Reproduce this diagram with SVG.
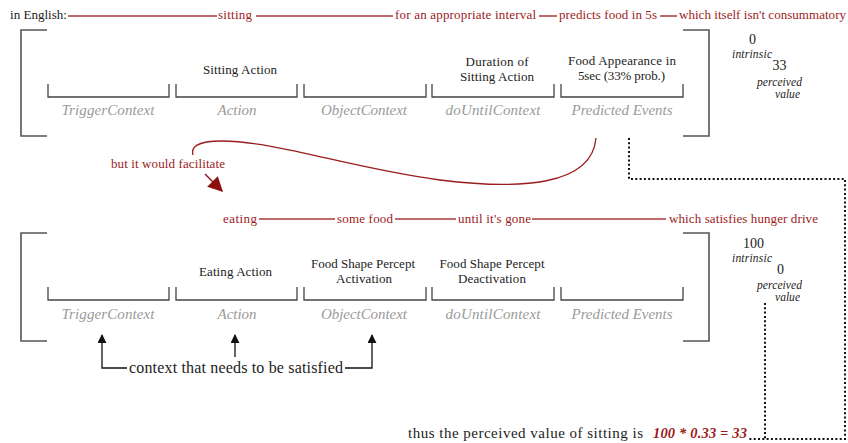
<svg xmlns="http://www.w3.org/2000/svg" width="848" height="443" viewBox="0 0 848 443">
  <defs>
    <style>
      text { font-family: "Liberation Serif", "DejaVu Serif", serif; }
      .t { fill: #222; }
      .red { fill: #9a1c1c; font-size: 13px; }
      .hdr { fill: #222; font-size: 13px; text-anchor: middle; }
      .lbl { fill: #9a9a9a; font-size: 15px; font-style: italic; text-anchor: middle; }
      .ital { fill: #222; font-size: 11.5px; font-style: italic; }
      .num { fill: #222; font-size: 14px; text-anchor: middle; }
      .rl { stroke: #a83a3a; stroke-width: 1.3; fill: none; }
      .br { stroke: #555; stroke-width: 1.6; fill: none; }
      .col { stroke: #444; stroke-width: 1.3; fill: none; }
      .dot { stroke: #111; stroke-width: 2; stroke-dasharray: 2 2.3; fill: none; }
      .blk { stroke: #111; stroke-width: 1.3; fill: none; }
    </style>
    <marker id="blackArrow" viewBox="0 0 10 10" refX="9" refY="5" markerWidth="9" markerHeight="9" markerUnits="userSpaceOnUse" orient="auto">
      <path d="M0,0 L10,5 L0,10 Z" fill="#111"/>
    </marker>
    <marker id="redArrow" viewBox="0 0 10 10" refX="9" refY="5" markerWidth="15" markerHeight="15" markerUnits="userSpaceOnUse" orient="auto">
      <path d="M0,0 L10,5 L0,10 Z" fill="#8b0f0f"/>
    </marker>
  </defs>

  <!-- top sentence -->
  <g id="english-top">
    <text class="t" x="10" y="19" font-size="12.5" textLength="57" lengthAdjust="spacingAndGlyphs">in English:</text>
    <path class="rl" d="M68,16 H217 M256,16 H393 M539,16 H557 M660,16 H677"/>
    <text class="red" x="218" y="19" textLength="34">sitting</text>
    <text class="red" x="395" y="19" textLength="141">for an appropriate interval</text>
    <text class="red" x="559" y="19" textLength="98">predicts food in 5s</text>
    <text class="red" x="679" y="19" textLength="167">which itself isn't consummatory</text>
  </g>

  <!-- sitting schema -->
  <g id="sitting-schema">
    <path class="br" d="M47,30 H21 V136 H47"/>
    <path class="br" d="M683,30 H709 V136 H683"/>
    <path class="col" d="M48,84 V97 H169 V84 M176,84 V97 H297 V84 M304,84 V97 H426 V84 M432,84 V97 H554 V84 M561,84 V97 H683 V84"/>
    <text class="hdr" x="240" y="74" textLength="74">Sitting Action</text>
    <text class="hdr" x="497" y="66" textLength="63">Duration of</text>
    <text class="hdr" x="497" y="81" textLength="74">Sitting Action</text>
    <text class="hdr" x="622" y="65" textLength="108">Food Appearance in</text>
    <text class="hdr" x="621.5" y="80" textLength="87">5sec (33% prob.)</text>
    <text class="lbl" x="108" y="115" textLength="93">TriggerContext</text>
    <text class="lbl" x="237" y="115" textLength="39">Action</text>
    <text class="lbl" x="364" y="115" textLength="86">ObjectContext</text>
    <text class="lbl" x="493" y="115" textLength="95">doUntilContext</text>
    <text class="lbl" x="622" y="115" textLength="101">Predicted Events</text>
  </g>

  <g id="sitting-values">
    <text class="num" x="752.5" y="44">0</text>
    <text class="ital" x="732" y="58" textLength="40">intrinsic</text>
    <text class="num" x="779.5" y="70">33</text>
    <text class="ital" x="757" y="86" textLength="45">perceived</text>
    <text class="ital" x="775" y="98" textLength="25">value</text>
  </g>

  <!-- bottom sentence -->
  <g id="english-bottom">
    <path class="rl" d="M259,219 H335 M395,219 H456 M532,219 H666"/>
    <text class="red" x="223" y="223" textLength="34">eating</text>
    <text class="red" x="337" y="223" textLength="56">some food</text>
    <text class="red" x="458" y="223" textLength="73">until it's gone</text>
    <text class="red" x="669" y="223" textLength="149">which satisfies hunger drive</text>
  </g>

  <!-- eating schema -->
  <g id="eating-schema">
    <path class="br" d="M47,233 H21 V341 H47"/>
    <path class="br" d="M683,233 H709 V341 H683"/>
    <path class="col" d="M48,287 V300 H169 V287 M176,287 V300 H297 V287 M304,287 V300 H426 V287 M432,287 V300 H554 V287 M561,287 V300 H683 V287"/>
    <text class="hdr" x="235.5" y="276" textLength="73">Eating Action</text>
    <text class="hdr" x="363" y="268" textLength="104">Food Shape Percept</text>
    <text class="hdr" x="364" y="283" textLength="56">Activation</text>
    <text class="hdr" x="492" y="268" textLength="105">Food Shape Percept</text>
    <text class="hdr" x="492" y="283" textLength="68">Deactivation</text>
    <text class="lbl" x="108" y="319" textLength="93">TriggerContext</text>
    <text class="lbl" x="237" y="319" textLength="39">Action</text>
    <text class="lbl" x="364" y="319" textLength="86">ObjectContext</text>
    <text class="lbl" x="493" y="319" textLength="95">doUntilContext</text>
    <text class="lbl" x="622" y="319" textLength="101">Predicted Events</text>
  </g>

  <g id="eating-values">
    <text class="num" x="753.5" y="248">100</text>
    <text class="ital" x="732" y="262" textLength="40">intrinsic</text>
    <text class="num" x="780.5" y="274">0</text>
    <text class="ital" x="757" y="289" textLength="45">perceived</text>
    <text class="ital" x="775" y="301" textLength="25">value</text>
  </g>

  <g id="context-note">
    <text class="t" x="129" y="373" font-size="16" textLength="214">context that needs to be satisfied</text>
  </g>

  <g id="facilitate-note">
    <text class="red" x="111" y="168" textLength="114">but it would facilitate</text>
  </g>

  <g id="conclusion">
    <text class="t" x="408" y="438" font-size="15" textLength="235">thus the perceived value of sitting is</text>
    <text x="653" y="438" font-size="14.5" font-weight="bold" font-style="italic" fill="#9a1c1c" textLength="94">100 * 0.33 = 33</text>
  </g>

  <!-- connectors -->
  <g id="connectors">
    <path class="blk" d="M127,368 H102 V335" marker-end="url(#blackArrow)"/>
    <path class="blk" d="M235,357 V335" marker-end="url(#blackArrow)"/>
    <path class="blk" d="M345,368 H372 V335" marker-end="url(#blackArrow)"/>
    <path d="M596,138 C592,186 520,190 440,180 C350,168 280,142 222,141 C195,141 191,148 193,155" stroke="#9a1c1c" stroke-width="1.3" fill="none"/>
    <path d="M205,174 L222,191" stroke="#8b0f0f" stroke-width="1.3" fill="none" marker-end="url(#redArrow)"/>
    <path class="dot" d="M629,138 V179 H845 V439 H749"/>
    <path class="dot" d="M765,303 V439"/>
  </g>
</svg>
